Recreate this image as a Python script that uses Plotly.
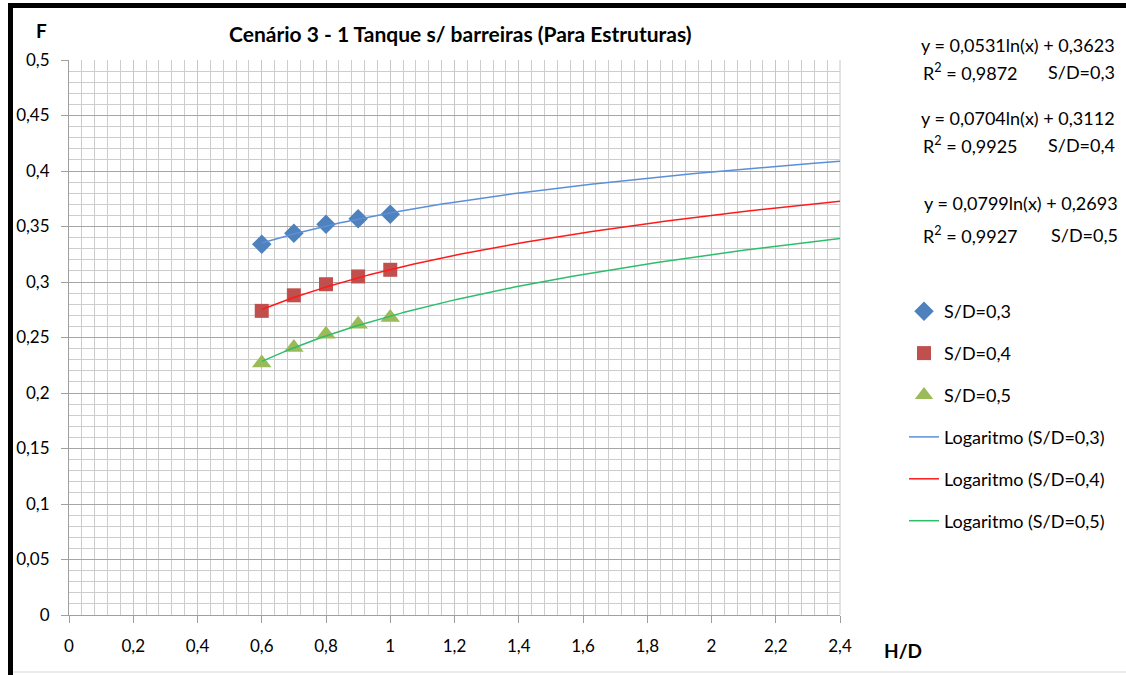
import numpy as np
import plotly.graph_objects as go

# ---- data ----
hd = [0.6, 0.7, 0.8, 0.9, 1.0]
f_sd03 = [0.334, 0.344, 0.352, 0.357, 0.361]
f_sd04 = [0.274, 0.288, 0.298, 0.305, 0.311]
f_sd05 = [0.227, 0.241, 0.253, 0.262, 0.268]
series_names = ["S/D=0,3", "S/D=0,4", "S/D=0,5"]
trend_a = [0.0531, 0.0704, 0.0799]
trend_b = [0.3623, 0.3112, 0.2693]
trend_r2 = [0.9872, 0.9925, 0.9927]
trend_range = [0.6, 2.4]

FONT = "Lato"
W, H = 1126, 675
L, R, T, B = 69, 840, 60, 615


def px(x):
    return (x - L) / (R - L)


def py(y):
    return 1 - (y - T) / (B - T)


marker_colors = ["#4F81BD", "#C0504D", "#9BBB59"]
marker_symbols = ["diamond", "square", "triangle-up"]
marker_sizes = [15, 14, 17]
line_colors = ["#5B8FD9", "#FF1A1A", "#2DBE6C"]

fig = go.Figure()
for i, ys in enumerate([f_sd03, f_sd04, f_sd05]):
    fig.add_trace(go.Scatter(
        x=hd, y=ys, mode="markers", name=series_names[i],
        marker=dict(symbol=marker_symbols[i], size=marker_sizes[i],
                    color=marker_colors[i], line=dict(width=0)),
        legendgroup="m%d" % i, legendrank=i + 1,
    ))

xt = np.linspace(trend_range[0], trend_range[1], 200)
for i in range(3):
    yt = trend_a[i] * np.log(xt) + trend_b[i]
    fig.add_trace(go.Scatter(
        x=xt, y=yt, mode="lines", name="Logaritmo (%s)" % series_names[i],
        line=dict(color=line_colors[i], width=1.5),
        legendgroup="l%d" % i, legendrank=i + 4,
    ))


def fmt(v):
    return ("%.4f" % v).replace(".", ",")


ann = []
eq_y = [45, 118, 203]
r2_y = [72, 145, 235]
eq_x = [1117, 1117, 1120]
for i in range(3):
    ann.append(dict(x=px(eq_x[i]), y=py(eq_y[i]), xref="paper", yref="paper",
                    xanchor="right", yanchor="middle", showarrow=False,
                    text="y = %sln(x) + %s" % (fmt(trend_a[i]), fmt(trend_b[i])),
                    font=dict(family=FONT, size=18, color="#000")))
    ann.append(dict(x=px(921), y=py(r2_y[i]), xref="paper", yref="paper",
                    xanchor="left", yanchor="middle", showarrow=False,
                    text="R<sup>2</sup> = %s" % fmt(trend_r2[i]),
                    font=dict(family=FONT, size=18, color="#000")))
    ann.append(dict(x=px(eq_x[i]), y=py(r2_y[i]), xref="paper", yref="paper",
                    xanchor="right", yanchor="middle", showarrow=False,
                    text=series_names[i],
                    font=dict(family=FONT, size=18, color="#000")))

ann.append(dict(x=px(460), y=py(33), xref="paper", yref="paper",
                xanchor="center", yanchor="middle", showarrow=False,
                text="<b>Cenário 3 - 1 Tanque s/ barreiras (Para Estruturas)</b>",
                font=dict(family=FONT, size=21, color="#000")))
ann.append(dict(x=px(41), y=py(30), xref="paper", yref="paper",
                xanchor="center", yanchor="middle", showarrow=False,
                text="<b>F</b>", font=dict(family=FONT, size=19, color="#000")))
ann.append(dict(x=px(903), y=py(650), xref="paper", yref="paper",
                xanchor="center", yanchor="middle", showarrow=False,
                text="<b>H/D</b>", font=dict(family=FONT, size=19, color="#000")))

shapes = [
    dict(type="rect", xref="paper", yref="paper", x0=px(8), x1=px(1126),
         y0=py(8), y1=py(3), fillcolor="#000", line=dict(width=0), layer="above"),
    dict(type="rect", xref="paper", yref="paper", x0=px(8), x1=px(13),
         y0=py(675), y1=py(3), fillcolor="#000", line=dict(width=0), layer="above"),
    dict(type="line", xref="paper", yref="paper", x0=px(13), x1=px(1126),
         y0=py(672), y1=py(672), line=dict(color="#d9d9d9", width=1)),
    dict(type="line", xref="paper", yref="paper", x0=1, x1=1, y0=0, y1=1,
         line=dict(color="#c8c8c8", width=1), layer="below"),
]

fig.update_layout(
    width=W, height=H,
    margin=dict(l=L, r=W - R, t=T, b=H - B, pad=0),
    paper_bgcolor="white", plot_bgcolor="white",
    separators=", ",
    font=dict(family=FONT, size=17, color="#000"),
    showlegend=True,
    legend=dict(x=px(904), y=py(293), xanchor="left", yanchor="top",
                font=dict(family=FONT, size=18, color="#000"),
                tracegroupgap=15.5, itemwidth=30, bgcolor="rgba(0,0,0,0)"),
    annotations=ann,
    shapes=shapes,
)

fig.update_xaxes(
    range=[0, 2.4], dtick=0.2, tick0=0,
    showgrid=True, gridcolor="#c6c6c6", gridwidth=1,
    minor=dict(dtick=0.04, showgrid=True, gridcolor="#cdcdcd", gridwidth=1),
    showline=True, linecolor="#9f9f9f", linewidth=1,
    ticks="outside", ticklen=7, tickcolor="#9f9f9f",
    ticklabelstandoff=9,
    tickfont=dict(family=FONT, size=17, color="#000"),
    zeroline=False,
)
fig.update_yaxes(
    range=[0, 0.5], dtick=0.05, tick0=0,
    showgrid=True, gridcolor="#a6a6a6", gridwidth=1,
    minor=dict(dtick=0.01, showgrid=True, gridcolor="#cdcdcd", gridwidth=1),
    showline=True, linecolor="#9f9f9f", linewidth=1,
    ticks="outside", ticklen=7, tickcolor="#9f9f9f",
    ticklabelstandoff=8,
    tickfont=dict(family=FONT, size=17, color="#000"),
    zeroline=False,
)

fig.write_html("out.html")
